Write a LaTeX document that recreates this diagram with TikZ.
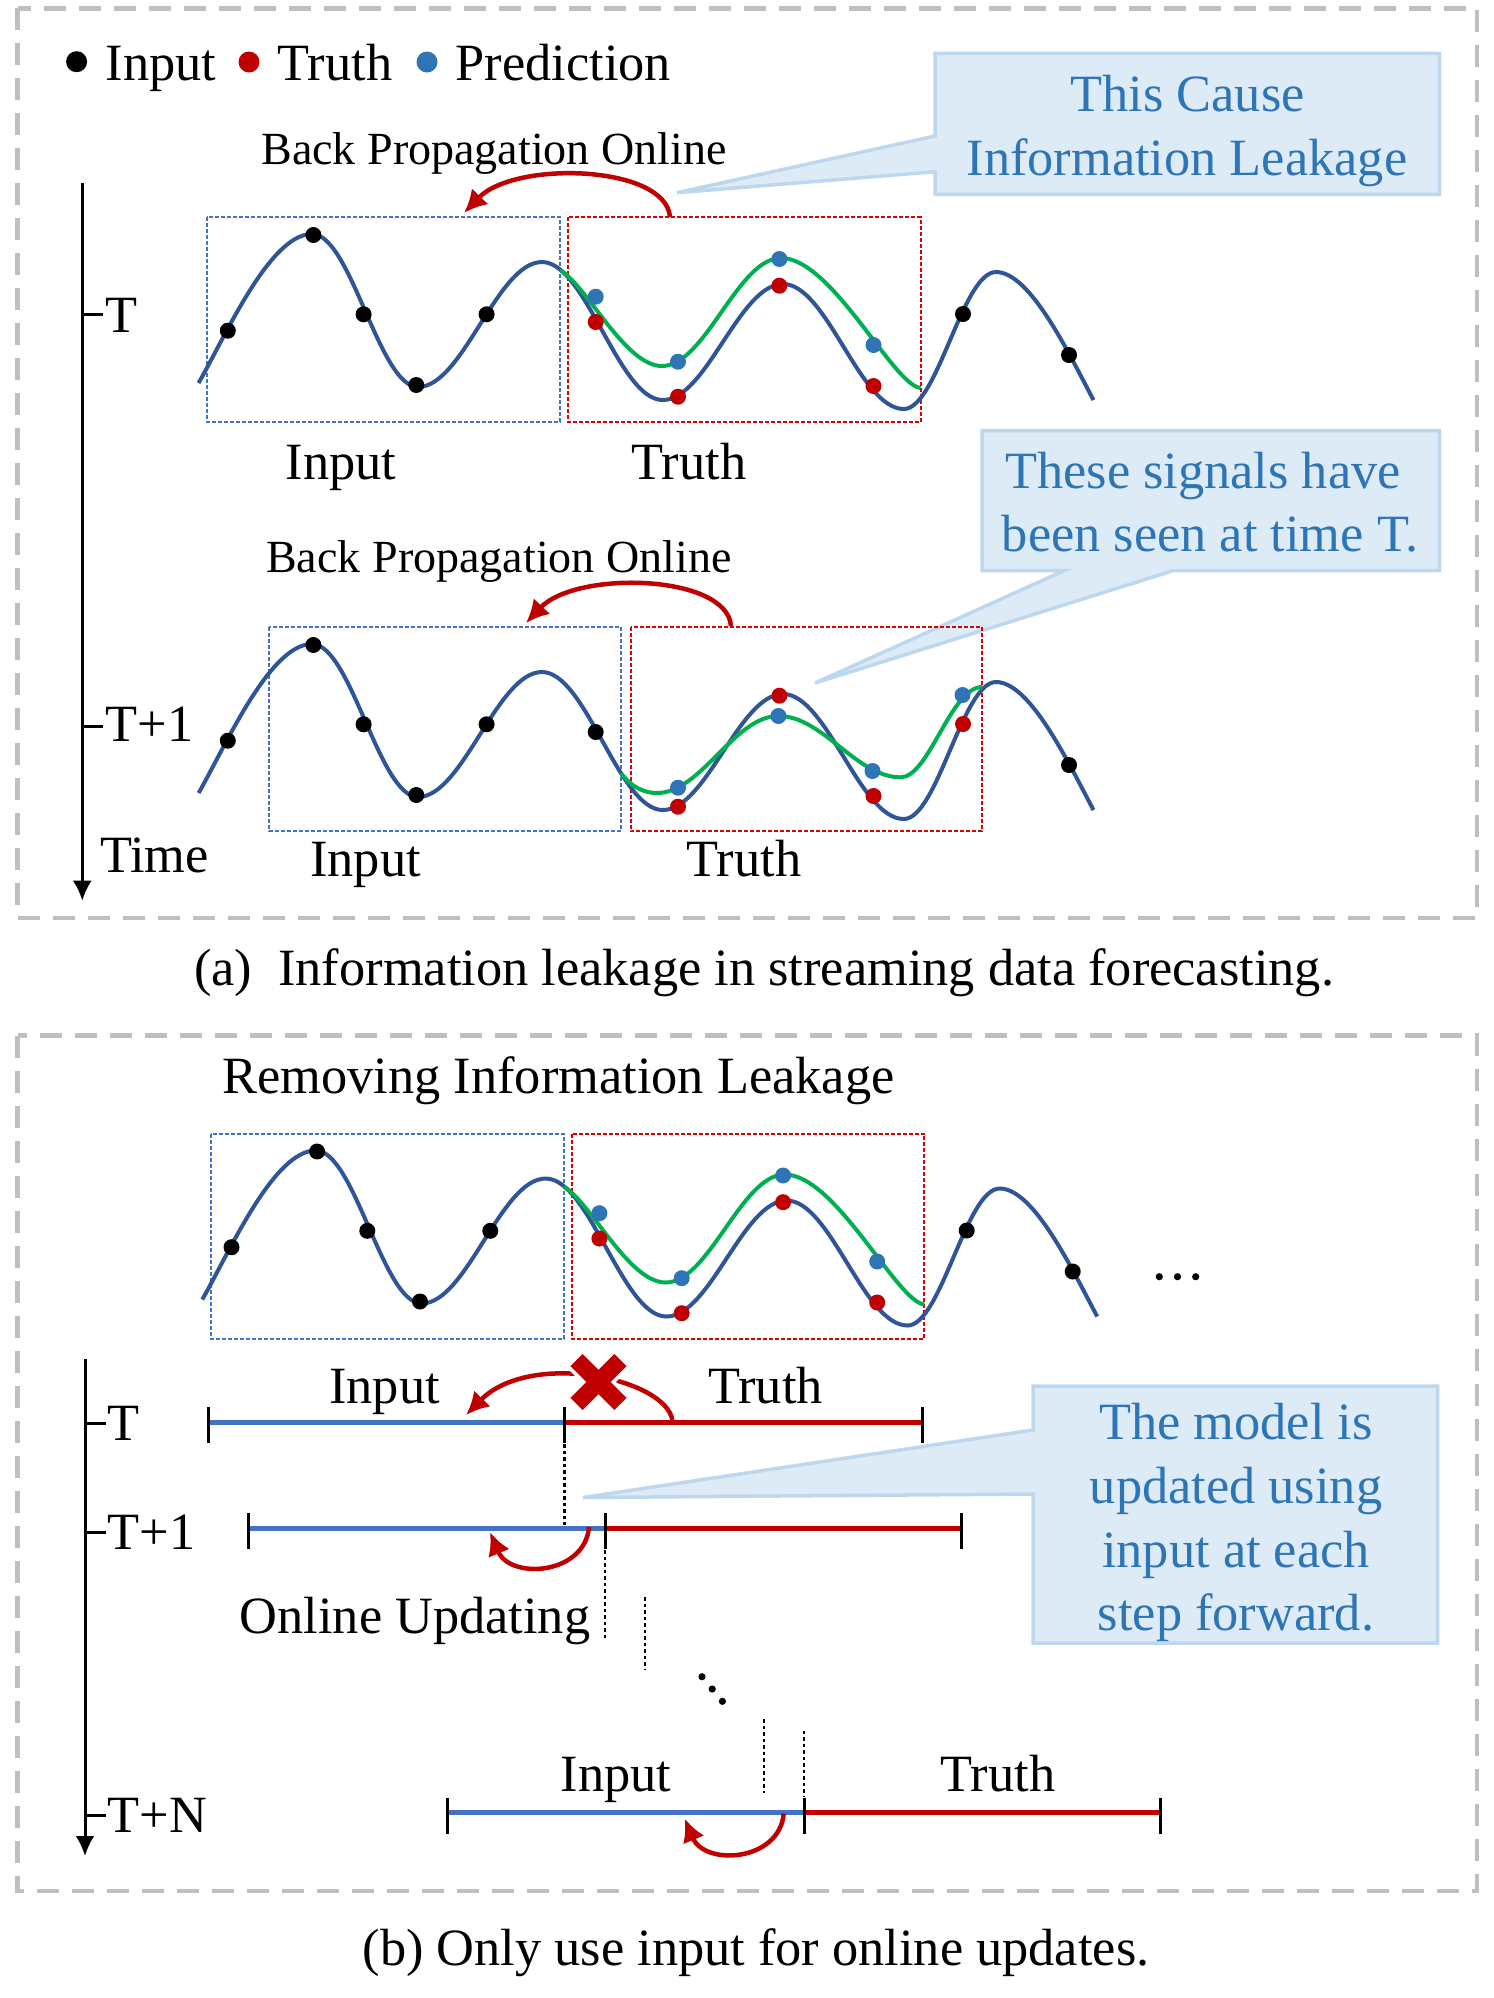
\documentclass[tikz,border=0pt]{standalone}
\usepackage{fontspec}
\setmainfont{Liberation Serif}
\usetikzlibrary{arrows.meta}
\definecolor{navy}{HTML}{2F5597}
\definecolor{grn}{HTML}{00B050}
\definecolor{bdot}{HTML}{2E75B6}
\definecolor{rdot}{HTML}{C00000}
\definecolor{bline}{HTML}{4472C4}
\definecolor{rbox}{HTML}{E00000}
\definecolor{panelgray}{HTML}{BFBFBF}
\definecolor{callfill}{HTML}{DDEBF7}
\definecolor{calldraw}{HTML}{BDD7EE}
\definecolor{calltext}{HTML}{2E75B6}
\newcommand{\mywave}{(198.6,383) .. controls (226,335) and (270,234) .. (312,234) .. controls (351,234) and (379,387) .. (418,387) .. controls (463.1,387) and (496.9,262) .. (542,262) .. controls (585.9,262) and (618.8,400) .. (662.7,400) .. controls (706.5,400) and (739.2,284) .. (783,284) .. controls (827,284) and (859.8,409) .. (903.8,409) .. controls (937.4,409) and (962.4,272) .. (996,272) .. controls (1030,272) and (1068,352) .. (1093.5,400)}
\newcommand{\mygreenA}{(560,270) .. controls (588,287) and (625,366) .. (662,366) .. controls (705.3,366) and (737.7,258) .. (781,258) .. controls (831.8,258) and (893,385) .. (920.5,388)}
\newcommand{\mygreenB}{(621,363) .. controls (632,378) and (645,383) .. (657,383) .. controls (701.2,383) and (734.2,306) .. (778.4,306) .. controls (823,306) and (856.2,367.3) .. (900.8,367.3) .. controls (928.9,367.3) and (951,277) .. (982,277)}
\begin{document}
\begin{tikzpicture}[x=0.1mm,y=-0.1mm,
  txt/.style={font=\fontsize{14.9}{17}\selectfont,inner sep=0,anchor=base},
  smalltxt/.style={font=\fontsize{13.1}{15}\selectfont,inner sep=0,anchor=base},
  calltxt/.style={txt,text=calltext},
  panel/.style={draw=panelgray,line width=0.45mm,dash pattern=on 2.2mm off 1.3mm},
  bluebox/.style={draw=bline,line width=0.2mm,dash pattern=on 0.4mm off 0.2mm},
  redbox/.style={draw=rbox,line width=0.2mm,dash pattern=on 0.4mm off 0.2mm},
  wave/.style={draw=navy,line width=0.4mm},
  gwave/.style={draw=grn,line width=0.4mm},
  callout/.style={fill=callfill,draw=calldraw,line width=0.35mm},
  redarrow/.style={draw=rdot,line width=0.45mm,-{Latex[length=2.3mm,width=2.3mm]}},
  axis/.style={draw=black,line width=0.3mm,-{Latex[length=2mm,width=1.9mm]}},
  tickline/.style={draw=black,line width=0.3mm},
  dotline/.style={draw=black,line width=0.22mm,dash pattern=on 0.35mm off 0.3mm},
  bseg/.style={draw=bline,line width=0.45mm},
  rseg/.style={draw=rdot,line width=0.45mm}]
\useasboundingbox (0,0) rectangle (1493,1998);
% ---------- panels
\draw[panel] (17.7,8.3) rectangle (1477,918);
\draw[panel] (17.7,1035.7) rectangle (1477,1891);
% ---------- legend
\fill[black] (76.6,61.7) circle[radius=1.05mm];
\node[txt,anchor=base west] (lgin) at (105,80) {Input};
\fill[rdot] (249,62) circle[radius=1.05mm];
\node[txt,anchor=base west] (lgtr) at (277,80) {Truth};
\fill[bdot] (427,62) circle[radius=1.05mm];
\node[txt,anchor=base west] (lgpr) at (455,80) {Prediction};
% ---------- callout 1
\draw[callout] (935,53.3) -- (1439.5,53.3) -- (1439.5,194.3) -- (935,194.3) -- (935,171.7) -- (677,192.7) -- (935,136) -- cycle;
\node[calltxt] (c1a) at (1187.6,111) {This Cause};
\node[calltxt] (c1b) at (1187,175) {Information Leakage};
% ---------- callout 2
\draw[callout] (982,430.7) -- (1439.5,430.7) -- (1439.5,570.7) -- (1173,570.7) -- (815,683) -- (1064,570.7) -- (982,570.7) -- cycle;
\node[calltxt] (c2a) at (1203,488.3) {These signals have};
\node[calltxt] (c2b) at (1210,551.7) {been seen at time T.};
% ---------- time axis (a)
\coordinate (axa0) at (82.3,182.7);
\coordinate (axa1) at (82.3,900.7);
\draw[axis] (axa0) -- (axa1);
\draw[tickline] (82.3,314.3) -- (103,314.3);
\draw[tickline] (82.3,726.7) -- (103,726.7);
\node[txt,anchor=base west] (la1) at (105,332) {T};
\node[txt,anchor=base west] (la2) at (105,741.7) {T+1};
\node[txt,anchor=base west] (la3) at (99.5,872.7) {Time};
% ---------- row T
\draw[bluebox] (207,217) rectangle (560,422);
\draw[redbox] (568,217) rectangle (920.5,422);
\draw[wave] \mywave;
\draw[gwave] \mygreenA;
\foreach \p in {(227.8,330.7),(313.4,235),(363.6,314.3),(416.3,385),(486.6,314.3),(963,314),(1069,355)} \fill[black] \p circle[radius=0.8mm];
\foreach \p in {(595.7,322),(678,396.7),(779.4,285.7),(873.5,386)} \fill[rdot] \p circle[radius=0.8mm];
\foreach \p in {(595.7,296.7),(678,361.7),(779.4,259),(873.5,345)} \fill[bdot] \p circle[radius=0.8mm];
\node[smalltxt] (bp1) at (494,164) {Back Propagation Online};
\coordinate (ra0) at (670,217);
\coordinate (ra1) at (464,213);
\draw[redarrow] (ra0) .. controls (666,165) and (515,160) .. (ra1);
\node[txt] (in1) at (341,479) {Input};
\node[txt] (tr1) at (689,479) {Truth};
% ---------- row T+1
\begin{scope}[shift={(0,410)}]
\draw[bluebox] (269,216.7) rectangle (621,420.7);
\draw[redbox] (630.6,216.7) rectangle (982,421);
\draw[wave] \mywave;
\draw[gwave] \mygreenB;
\foreach \p in {(227.8,330.7),(313.4,235),(363.6,314.3),(416.3,385),(486.6,314.3),(595.7,322),(1069,355)} \fill[black] \p circle[radius=0.8mm];
\foreach \p in {(678,396.7),(779.4,285.7),(873.5,386),(963,314)} \fill[rdot] \p circle[radius=0.8mm];
\foreach \p in {(678,377.7),(778.4,306),(872.5,361),(962.5,285)} \fill[bdot] \p circle[radius=0.8mm];
\end{scope}
\node[smalltxt] (bp2) at (499,572.7) {Back Propagation Online};
\coordinate (rb0) at (731,626);
\coordinate (rb1) at (526,623);
\draw[redarrow] (rb0) .. controls (727,574) and (576,570) .. (rb1);
\node[txt] (in2) at (365.6,876.7) {Input};
\node[txt] (tr2) at (744,876.7) {Truth};
% ---------- caption (a)
\node[txt] (capa) at (764,985) {(a)~~Information leakage in streaming data forecasting.};
% ---------- panel (b) wave
\node[txt] (rem) at (558.5,1093.3) {Removing Information Leakage};
\begin{scope}[shift={(3.7,916.5)}]
\draw[bluebox] (207,217) rectangle (560,422);
\draw[redbox] (568,217) rectangle (920.5,422);
\draw[wave] \mywave;
\draw[gwave] \mygreenA;
\foreach \p in {(227.8,330.7),(313.4,235),(363.6,314.3),(416.3,385),(486.6,314.3),(963,314),(1069,355)} \fill[black] \p circle[radius=0.8mm];
\foreach \p in {(595.7,322),(678,396.7),(779.4,285.7),(873.5,386)} \fill[rdot] \p circle[radius=0.8mm];
\foreach \p in {(595.7,296.7),(678,361.7),(779.4,259),(873.5,345)} \fill[bdot] \p circle[radius=0.8mm];
\end{scope}
\foreach \xx in {1159.3,1177.5,1195.7} \fill[black] (\xx,1276.7) circle[radius=0.36mm];
% ---------- callout 3
\draw[callout] (1033,1386) -- (1437.5,1386) -- (1437.5,1643) -- (1033,1643) -- (1033,1494) -- (583,1497.5) -- (1033,1430) -- cycle;
\node[calltxt] (c3a) at (1236,1439) {The model is};
\node[calltxt] (c3b) at (1236,1503) {updated using};
\node[calltxt] (c3c) at (1236,1567) {input at each};
\node[calltxt] (c3d) at (1236,1630) {step forward.};
% ---------- time axis (b)
\coordinate (axb0) at (85,1359.3);
\coordinate (axb1) at (85,1856);
\draw[axis] (axb0) -- (axb1);
\draw[tickline] (85,1423) -- (106,1423);
\draw[tickline] (85,1532) -- (106,1532);
\draw[tickline] (85,1815) -- (106,1815);
\node[txt,anchor=base west] (lb1) at (107,1440) {T};
\node[txt,anchor=base west] (lb2) at (107,1549) {T+1};
\node[txt,anchor=base west] (lb3) at (107,1832) {T+N};
% ---------- timelines
\coordinate (tA) at (208.6,1422.3);
\coordinate (tM) at (564.5,1422.3);
\coordinate (tB) at (922,1422.3);
\coordinate (uA) at (248.7,1528.3);
\coordinate (uM) at (605.2,1528.3);
\coordinate (uB) at (961,1528.3);
\coordinate (nA) at (447,1812.7);
\coordinate (nM) at (804,1812.7);
\coordinate (nB) at (1160,1812.7);
\draw[bseg] (tA) -- (tM);
\draw[rseg] (tM) -- (tB);
\draw[bseg] (uA) -- (uM);
\draw[rseg] (uM) -- (uB);
\draw[bseg] (nA) -- (nM);
\draw[rseg] (nM) -- (nB);
\foreach \c in {tA,tM,tB,uA,uM,uB,nA,nM,nB} \draw[tickline] ([yshift=1.5mm]\c) -- ([yshift=-2.1mm]\c);
% dotted guides
\draw[dotline] (564.5,1444) -- (564.5,1525);
\draw[dotline] (605.2,1550) -- (605.2,1638);
\draw[dotline] (645,1597) -- (645,1669);
\draw[dotline] (763.8,1719) -- (763.8,1792.7);
\draw[dotline] (804,1730.7) -- (804,1797);
\foreach \p in {(702,1676.7),(712.2,1689),(722.4,1701.3)} \fill[black] \p circle[radius=0.36mm];
% labels
\node[txt] (inT) at (384.6,1403) {Input};
\node[txt] (trT) at (765.6,1403) {Truth};
\node[txt] (onl) at (415,1633.3) {Online Updating};
\node[txt] (inN) at (616,1791.7) {Input};
\node[txt] (trN) at (998,1791.7) {Truth};
% red arrows (b)
\coordinate (xa0) at (672.4,1420);
\coordinate (xa1) at (466,1415);
\draw[redarrow] (xa0) .. controls (665,1378) and (530,1350) .. (xa1);
\begin{scope}[shift={(598.5,1382)},rotate=45]
\fill[rdot,draw=white,line width=0.35mm] (-10.5,-33) -- (10.5,-33) -- (10.5,-10.5) -- (33,-10.5) -- (33,10.5) -- (10.5,10.5) -- (10.5,33) -- (-10.5,33) -- (-10.5,10.5) -- (-33,10.5) -- (-33,-10.5) -- (-10.5,-10.5) -- cycle;
\end{scope}
\coordinate (ua0) at (589,1527);
\coordinate (ua1) at (490,1532);
\draw[redarrow] (ua0) .. controls (585,1575) and (510,1580) .. (ua1);
\coordinate (na0) at (783.7,1813.5);
\coordinate (na1) at (684.7,1818.5);
\draw[redarrow] (na0) .. controls (779.7,1861.5) and (704.7,1866.5) .. (na1);
% ---------- caption (b)
\node[txt] (capb) at (756,1965) {(b) Only use input for online updates.};
\end{tikzpicture}
\end{document}
